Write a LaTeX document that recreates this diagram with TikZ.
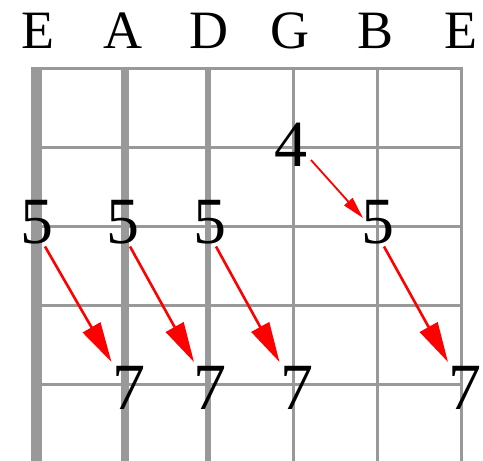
\documentclass[tikz,border=0pt]{standalone}
\usepackage{fontspec}
\setmainfont{Liberation Serif}
\usetikzlibrary{arrows.meta,calc}
\definecolor{strgray}{RGB}{153,153,153}
\begin{document}
\begin{tikzpicture}[x=1pt,y=-1pt,
  stringline/.style={draw=strgray, line width=#1, line cap=butt},
  fretline/.style={draw=strgray, line width=3pt, line cap=butt},
  strlabel/.style={font=\fontsize{54}{54}\selectfont, inner sep=0pt, anchor=base},
  digit/.style={font=\fontsize{66}{66}\selectfont, inner sep=0pt, anchor=base},
  bigarr/.style={draw=red, line width=2.6pt, -{Triangle[length=40pt,width=20pt]}},
  smallarr/.style={draw=red, line width=1.8pt, -{Triangle[length=22pt,width=11pt]}}]
\useasboundingbox (0,0) rectangle (483,461);
% frets
\foreach \y in {68.2,147,226.5,305.5,384.5}
  \draw[fretline] (36.8,\y) -- (463.2,\y);
% strings
\draw[stringline=11pt] (36.8,66.7) -- (36.8,461);
\draw[stringline=8.6pt] (125,66.7) -- (125,461);
\draw[stringline=6pt] (207.7,66.7) -- (207.7,461);
\draw[stringline=3pt] (293.3,66.7) -- (293.3,461);
\draw[stringline=3pt] (377.3,66.7) -- (377.3,461);
\draw[stringline=3pt] (461.7,66.7) -- (461.7,461);
% string names
\node[strlabel] (lE) at (38,48) {E};
\node[strlabel] (lA) at (123,48) {A};
\node[strlabel] (lD) at (209,48) {D};
\node[strlabel] (lG) at (290,48) {G};
\node[strlabel] (lB) at (376,48) {B};
\node[strlabel] (le) at (461,48) {E};
% digits
\node[digit] (f4) at (291,166) {4};
\node[digit] (f5a) at (37,243) {5};
\node[digit] (f5b) at (123,243) {5};
\node[digit] (f5c) at (210,243) {5};
\node[digit] (f5d) at (378,243) {5};
\node[digit] (f7a) at (128.5,409) {7};
\node[digit] (f7b) at (210,409) {7};
\node[digit] (f7c) at (296.5,409) {7};
\node[digit] (f7d) at (465,409) {7};
% arrows
\draw[smallarr] ($(f4.base)+(20,-6)$) -- ($(f5d.base)+(-15,-25)$);
\draw[bigarr] ($(f5a.base)+(8,3.5)$) -- ($(f7a.base)+(-17,-47)$);
\draw[bigarr] ($(f5b.base)+(7,3.5)$) -- ($(f7b.base)+(-16,-47)$);
\draw[bigarr] ($(f5c.base)+(6,3.5)$) -- ($(f7c.base)+(-17,-47)$);
\draw[bigarr] ($(f5d.base)+(6,3.5)$) -- ($(f7d.base)+(-17,-47)$);
\end{tikzpicture}
\end{document}
